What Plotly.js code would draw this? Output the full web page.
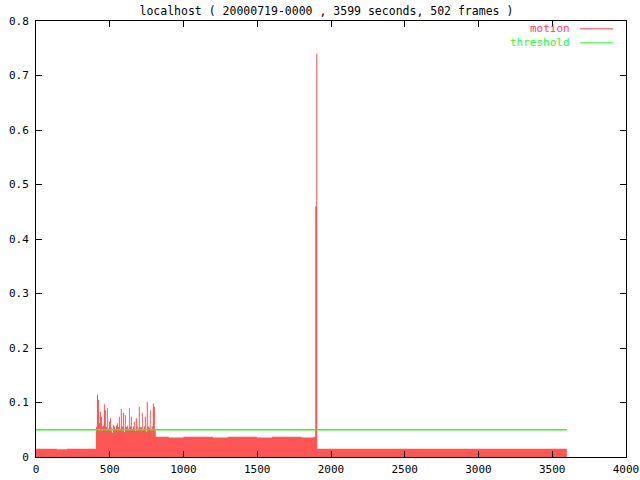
<!DOCTYPE html>
<html>
<head>
<meta charset="utf-8">
<script src="https://cdn.plot.ly/plotly-3.0.1.min.js"></script>
<style>html,body{margin:0;padding:0;background:#fff;}#chart{width:640px;height:480px;}</style>
</head>
<body>
<div id="chart"></div>
<script>
// motion samples (seconds, value)
const motionTime = [
  0, 70, 140, 210, 280, 350,
  406,413,420,427,433,440,447,454,460,467,474,481,487,494,501,508,514,521,528,535,542,548,555,562,
  569,575,582,589,596,602,609,616,623,630,636,643,650,657,663,670,677,684,690,697,704,711,718,724,
  731,738,745,751,758,765,772,778,785,792,799,806,
  812, 900, 1000, 1100, 1200, 1300, 1400, 1500, 1600, 1700, 1800, 1880,
  1893, 1900, 1907,
  2000, 2200, 2400, 2600, 2800, 3000, 3200, 3400, 3599
];
const motionValue = [
  0.015, 0.015, 0.014, 0.015, 0.015, 0.015,
  0.055,0.114,0.105,0.062,0.083,0.074,0.056,0.058,0.097,0.086,0.055,0.09,0.052,0.065,0.071,0.054,0.045,0.059,0.056,0.05,0.058,0.062,0.055,0.074,
  0.052,0.088,0.056,0.081,0.046,0.077,0.055,0.058,0.052,0.09,0.056,0.074,0.05,0.056,0.065,0.048,0.071,0.056,0.052,0.092,0.055,0.054,0.081,0.05,
  0.056,0.074,0.047,0.101,0.056,0.054,0.086,0.05,0.056,0.098,0.092,0.05,
  0.037, 0.036, 0.037, 0.037, 0.036, 0.037, 0.037, 0.036, 0.037, 0.037, 0.036, 0.037,
  0.46, 0.74, 0.015,
  0.015, 0.015, 0.015, 0.015, 0.015, 0.015, 0.015, 0.015, 0.015
];
const thresholdTime = [0, 3599];
const thresholdValue = [0.05, 0.05];
const xTicks = [0, 500, 1000, 1500, 2000, 2500, 3000, 3500, 4000];
const yTicks = [0, 0.1, 0.2, 0.3, 0.4, 0.5, 0.6, 0.7, 0.8];
const yTickText = ['0', '0.1', '0.2', '0.3', '0.4', '0.5', '0.6', '0.7', '0.8'];
const titleText = 'localhost ( 20000719-0000 , 3599 seconds, 502 frames )';
const seriesNames = ['motion', 'threshold'];

const RED = '#ff5555', GREEN = '#22ff22';
const FONT = 'DejaVu Sans Mono, monospace';

const traces = [
  {x: motionTime, y: motionValue, type: 'scatter', mode: 'lines',
   line: {shape: 'hv', width: 0, color: RED}, fill: 'tozeroy', fillcolor: RED,
   name: seriesNames[0], showlegend: false, hoverinfo: 'skip'},
  {x: thresholdTime, y: thresholdValue, type: 'scatter', mode: 'lines',
   line: {width: 1.6, color: GREEN}, name: seriesNames[1], showlegend: false}
];

const layout = {
  width: 640, height: 480,
  margin: {l: 36, r: 14, t: 21, b: 23},
  paper_bgcolor: '#fff', plot_bgcolor: '#fff',
  font: {family: FONT, size: 11, color: '#000'},
  title: {text: titleText, x: 0.51, xanchor: 'center', y: 0.985, yanchor: 'top',
          font: {family: FONT, size: 11.5, color: '#000'}},
  showlegend: false,
  xaxis: {range: [0, 4000], tickvals: xTicks, ticktext: xTicks.map(String),
          ticks: 'inside', ticklen: 6, tickcolor: '#000', showline: true, linecolor: '#000',
          linewidth: 1, mirror: 'allticks', showgrid: false, zeroline: false,
          ticklabelstandoff: 2, tickfont: {family: FONT, size: 11}},
  yaxis: {range: [0, 0.8], tickvals: yTicks, ticktext: yTickText,
          ticks: 'inside', ticklen: 6, tickcolor: '#000', showline: true, linecolor: '#000',
          linewidth: 1, mirror: 'allticks', showgrid: false, zeroline: false,
          ticklabelstandoff: 4, tickfont: {family: FONT, size: 11}},
  annotations: [
    {xref: 'paper', yref: 'paper', x: 0.909, y: 0.982, xanchor: 'right', yanchor: 'middle',
     text: seriesNames[0], showarrow: false, font: {family: FONT, size: 11, color: '#ff4060'}},
    {xref: 'paper', yref: 'paper', x: 0.909, y: 0.950, xanchor: 'right', yanchor: 'middle',
     text: seriesNames[1], showarrow: false, font: {family: FONT, size: 11, color: GREEN}}
  ],
  shapes: [
    {type: 'line', xref: 'paper', yref: 'paper', x0: 0.922, x1: 0.978, y0: 0.982, y1: 0.982,
     line: {color: '#ff4040', width: 1}},
    {type: 'line', xref: 'paper', yref: 'paper', x0: 0.922, x1: 0.978, y0: 0.950, y1: 0.950,
     line: {color: GREEN, width: 1}}
  ]
};

Plotly.newPlot('chart', traces, layout, {displayModeBar: false, staticPlot: true});
</script>
</body>
</html>
